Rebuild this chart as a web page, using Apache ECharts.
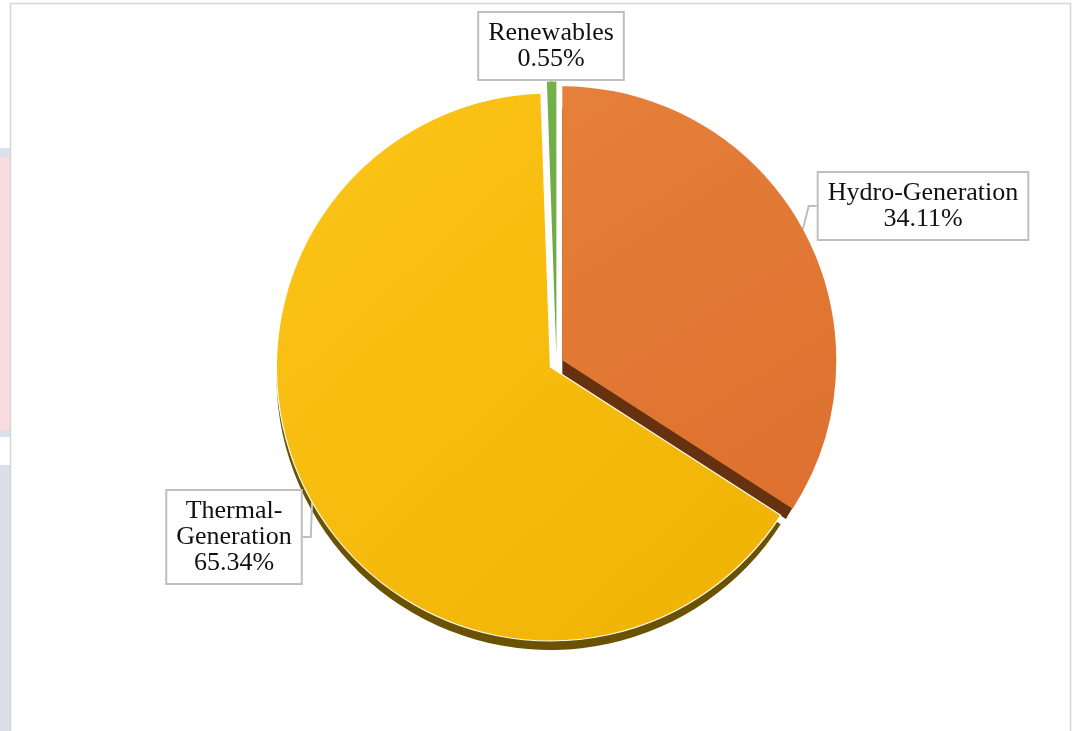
<!DOCTYPE html>
<html><head><meta charset="utf-8">
<script src="https://cdn.jsdelivr.net/npm/echarts@6/dist/echarts.min.js"></script>
<style>html,body{margin:0;padding:0;background:#fff}#c{width:1074px;height:731px}</style>
</head><body><div id="c"></div>
<script>
// ---- data ----
const categories = ['Hydro-Generation', 'Thermal-Generation', 'Renewables'];
const labelTexts = ['Hydro-Generation', 'Thermal-\nGeneration', 'Renewables'];
const shares = [34.11, 65.34, 0.55];

// ---- styles ----
const faceTop = ['#E5803A', '#FCC519', '#74B04A'];
const faceBottom = ['#DE702F', '#EFB202', '#6AA842'];
const sideColors = ['#65310F', '#6A5200', '#3E6127'];
const faceBorder = ['rgba(255,255,255,0)', 'rgba(255,255,255,0.95)', 'rgba(255,255,255,0)'];

const cx = 556.5, cy = 363.5, R = 274;
const explode = [6.6, 7.0, 8];
const depth = [14.5, 9, 0];
const depthRadiusCut = [8, 0, 0];
const labelCenters = [[923, 206], [234, 537], [551, 46]];

const total = shares.reduce((a, b) => a + b, 0);
const series = [];
let cum = 0;
shares.forEach((v, i) => {
  const mid = (90 - 360 * (cum + v / 2) / total) * Math.PI / 180;
  cum += v;
  const ox = explode[i] * Math.cos(mid), oy = -explode[i] * Math.sin(mid);
  const hidden = { color: 'rgba(0,0,0,0)', borderWidth: 0 };
  const common = {
    type: 'pie', startAngle: 90, clockwise: true, animation: false,
    emphasis: { disabled: true }, avoidLabelOverlap: false
  };
  if (depth[i] > 0) {
    series.push(Object.assign({}, common, {
      silent: true, z: 3,
      center: [cx + ox, cy + oy + depth[i]],
      radius: [0, R - depthRadiusCut[i]],
      label: { show: false }, labelLine: { show: false },
      data: categories.map((name, j) => ({
        name, value: shares[j],
        itemStyle: j === i ? { color: sideColors[i], borderWidth: 0 } : hidden
      }))
    }));
  }
  series.push(Object.assign({}, common, {
    z: 6,
    center: [cx + ox, cy + oy],
    radius: [0, R],
    labelLayout: function (p) {
      if (p.dataIndex !== i) return {};
      return { x: labelCenters[i][0], y: labelCenters[i][1], align: 'center', verticalAlign: 'middle' };
    },
    data: categories.map((name, j) => {
      if (j !== i) return { name, value: shares[j], itemStyle: hidden, label: { show: false }, labelLine: { show: false } };
      return {
        name, value: shares[j],
        itemStyle: {
          color: { type: 'linear', x: 0, y: 0, x2: 1, y2: 1,
            colorStops: [{ offset: 0, color: faceTop[i] }, { offset: 1, color: faceBottom[i] }] },
          borderColor: faceBorder[i], borderWidth: 1.2
        },
        label: {
          show: true, position: 'outside',
          formatter: labelTexts[i] + '\n' + shares[i].toFixed(2) + '%',
          fontFamily: '"Liberation Serif","Times New Roman",serif',
          fontSize: 26, lineHeight: 26, color: '#111',
          backgroundColor: '#fff', borderColor: '#BFBFBF', borderWidth: 2,
          padding: [7, 9], align: 'center'
        },
        labelLine: { show: true, length: 8, length2: 8, smooth: false,
          lineStyle: { color: '#BFBFBF', width: 2 } }
      };
    })
  }));
});

const chart = echarts.init(document.getElementById('c'));
chart.setOption({
  backgroundColor: '#fff',
  animation: false,
  graphic: [
    { type: 'rect', z: 0, shape: { x: 0, y: 148, width: 10, height: 9 }, style: { fill: '#DCE0EA' } },
    { type: 'rect', z: 0, shape: { x: 0, y: 157, width: 10, height: 273 }, style: { fill: '#F8DCDF' } },
    { type: 'rect', z: 0, shape: { x: 0, y: 430, width: 10, height: 7 }, style: { fill: '#DCE0EA' } },
    { type: 'rect', z: 0, shape: { x: 0, y: 465, width: 10, height: 266 }, style: { fill: '#DCDFE8' } },
    { type: 'rect', z: 0, shape: { x: 10.5, y: 3.5, width: 1060, height: 740 }, style: { fill: '#fff', stroke: '#D6D6D6', lineWidth: 1.5 } }
  ],
  series: series
});
</script>
</body></html>
